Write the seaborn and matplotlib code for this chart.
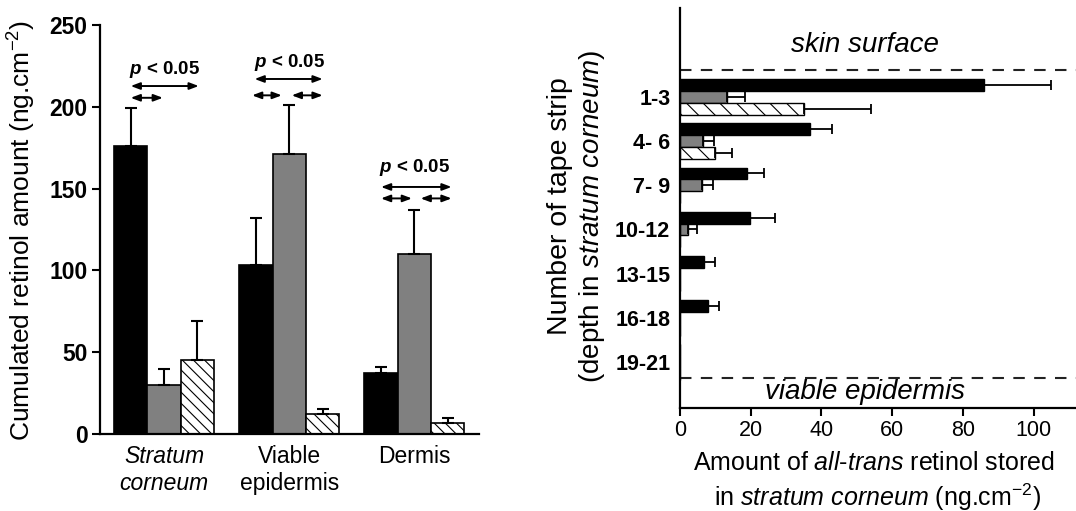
import matplotlib
matplotlib.use("Agg")
import matplotlib.pyplot as plt
import numpy as np
import pandas as pd
import seaborn as sns

# ---------------- Left panel data ----------------
compartments = ["Stratum\ncorneum", "Viable\nepidermis", "Dermis"]
groups = ["Group 1", "Group 2", "Group 3"]
comp_black = [176, 103, 37]
comp_black_err = [23, 29, 4]
comp_grey = [30, 171, 110]
comp_grey_err = [10, 30, 27]
comp_hatched = [45, 12, 7]
comp_hatched_err = [24, 3, 3]
left_yticks = [0, 50, 100, 150, 200, 250]

# ---------------- Right panel data ----------------
strips = ["1-3", "4- 6", "7- 9", "10-12", "13-15", "16-18", "19-21"]
strip_black = [86, 36.8, 18.9, 19.8, 6.8, 7.8, 0]
strip_black_err = [19, 6.2, 4.9, 7.1, 3.1, 3.2, 0]
strip_grey = [13.2, 6.6, 6.3, 2.3, 0, 0, 0]
strip_grey_err = [5.2, 3.1, 3.0, 2.5, 0, 0, 0]
strip_hatched = [35, 10, 0, 0, 0, 0, 0]
strip_hatched_err = [19, 4.8, 0, 0, 0, 0, 0]
right_xticks = [0, 20, 40, 60, 80, 100]

colors = ["#000000", "#808080", "#ffffff"]

sns.set_theme(style="ticks")
plt.rcParams["font.family"] = ["Liberation Sans", "DejaVu Sans"]
plt.rcParams.update({
    "mathtext.fontset": "custom",
    "mathtext.rm": "Liberation Sans",
    "mathtext.it": "Liberation Sans:italic",
    "mathtext.bf": "Liberation Sans:italic:bold",
    "hatch.linewidth": 0.8,
    "axes.linewidth": 1.6,
    "text.color": "black",
    "axes.labelcolor": "black",
    "axes.edgecolor": "black",
    "xtick.color": "black",
    "ytick.color": "black",
})

W, H = 1076, 511
fig = plt.figure(figsize=(W / 100, H / 100), dpi=100)

def px_box(x0, y0, x1, y1):
    return [x0 / W, 1 - y1 / H, (x1 - x0) / W, (y1 - y0) / H]

# ================= Left panel =================
ax1 = fig.add_axes(px_box(100, 25, 479, 434))
left_df = pd.DataFrame({
    "compartment": compartments * 3,
    "group": np.repeat(groups, len(compartments)),
    "amount": comp_black + comp_grey + comp_hatched,
})
sns.barplot(data=left_df, x="compartment", y="amount", hue="group",
            order=compartments, hue_order=groups, palette=colors,
            saturation=1, edgecolor="black", linewidth=1.2, errorbar=None,
            width=0.8, legend=False, ax=ax1)
bars1 = list(ax1.containers)
for p in bars1[2]:
    p.set_hatch("\\\\\\")

left_errs = [comp_black_err, comp_grey_err, comp_hatched_err]
for cont, errs in zip(bars1, left_errs):
    xs = [p.get_x() + p.get_width() / 2 for p in cont]
    ys = [p.get_height() for p in cont]
    ax1.errorbar(xs, ys, yerr=[np.zeros(len(errs)), errs], fmt="none",
                 ecolor="black", elinewidth=1.5, capsize=4.3, capthick=1.5)

ax1.set_xlim(-0.512, 2.516)
ax1.set_ylim(0, 250)
ax1.set_yticks(left_yticks)
ax1.set_xlabel("")
ax1.set_ylabel("")
for s in ["top", "right"]:
    ax1.spines[s].set_visible(False)
ax1.tick_params(axis="y", length=6, width=1.5, labelsize=16.5, pad=3)
ax1.tick_params(axis="x", length=0, labelsize=16.5, pad=8)
for t in ax1.get_yticklabels():
    t.set_fontweight("bold")
xt = ax1.get_xticklabels()
xt[0].set_fontstyle("italic")

# significance arrows
cx = [[p.get_x() + p.get_width() / 2 for p in cont] for cont in bars1]
astyle = dict(arrowstyle="<|-|>,head_length=0.45,head_width=0.17", lw=1.4,
              color="black", shrinkA=0, shrinkB=0)

def arrow(x0, x1, y):
    ax1.annotate("", xy=(x1, y), xytext=(x0, y), arrowprops=astyle)

sig = r"$\mathbf{p}$ < 0.05"
# Stratum corneum
arrow(cx[0][0], cx[2][0] + 0.01, 212.7)
arrow(cx[0][0], cx[1][0] - 0.01, 205.5)
ax1.text(cx[1][0], 222.5, sig, ha="center", va="center", fontsize=13.5, fontweight="bold")
# Viable epidermis
arrow(cx[0][1] - 0.01, cx[2][1], 217)
arrow(cx[0][1] - 0.03, cx[1][1] - 0.06, 207)
arrow(cx[1][1] + 0.02, cx[2][1], 207)
ax1.text(cx[1][1], 227, sig, ha="center", va="center", fontsize=13.5, fontweight="bold")
# Dermis
arrow(cx[0][2], cx[2][2] + 0.03, 151)
arrow(cx[0][2], cx[1][2] - 0.02, 144)
arrow(cx[1][2] + 0.05, cx[2][2] + 0.03, 144)
ax1.text(cx[1][2], 163, sig, ha="center", va="center", fontsize=13.5, fontweight="bold")

fig.text(22 / W, 1 - 230 / H, r"Cumulated retinol amount (ng.cm$^{-2}$)",
         rotation=90, ha="center", va="center", fontsize=19)

# ================= Right panel =================
ax2 = fig.add_axes(px_box(680, 8, 1076, 408))
right_df = pd.DataFrame({
    "strip": strips * 3,
    "group": np.repeat(groups, len(strips)),
    "amount": strip_black + strip_grey + strip_hatched,
})
sns.barplot(data=right_df, x="amount", y="strip", hue="group", orient="h",
            order=strips, hue_order=groups, palette=colors, saturation=1,
            edgecolor="black", linewidth=1.0, errorbar=None, width=0.8,
            legend=False, ax=ax2)
bars2 = list(ax2.containers)
for p in bars2[2]:
    p.set_hatch("\\\\")

right_errs = [strip_black_err, strip_grey_err, strip_hatched_err]
for cont, errs in zip(bars2, right_errs):
    ys = [p.get_y() + p.get_height() / 2 for p in cont]
    xs = [p.get_width() for p in cont]
    sel = [i for i, e in enumerate(errs) if e > 0]
    ax2.errorbar([xs[i] for i in sel], [ys[i] for i in sel],
                 xerr=[np.zeros(len(sel)), [errs[i] for i in sel]], fmt="none",
                 ecolor="black", elinewidth=1.3, capsize=3.6, capthick=1.3)

ax2.set_xlim(0, 112)
ax2.set_ylim(7.04, -2.01)
ax2.set_xticks(right_xticks)
ax2.set_xlabel("")
ax2.set_ylabel("")
for s in ["top", "right"]:
    ax2.spines[s].set_visible(False)
ax2.tick_params(axis="x", length=6, width=1.5, labelsize=15.5, pad=3)
ax2.tick_params(axis="y", length=0, labelsize=15.5, pad=7)
for t in ax2.get_yticklabels():
    t.set_fontweight("bold")

ax2.axhline(-0.61, color="#222222", lw=1.5, ls=(0, (5.5, 4.5)))
ax2.axhline(6.36, color="#222222", lw=1.5, ls=(0, (5.5, 4.5)))
ax2.text(52.4, -1.18, "skin surface", ha="center", va="center",
         fontsize=20, fontstyle="italic")
ax2.text(52.4, 6.67, "viable epidermis", ha="center", va="center",
         fontsize=20, fontstyle="italic")

fig.text(874 / W, 1 - 463 / H, r"Amount of $\it{all}$-$\it{trans}$ retinol stored",
         ha="center", va="center", fontsize=18)
fig.text(878 / W, 1 - 497 / H, r"in $\it{stratum\ corneum}$ (ng.cm$^{-2}$)",
         ha="center", va="center", fontsize=18)
fig.text(560 / W, 1 - 206 / H, "Number of tape strip", rotation=90,
         ha="center", va="center", fontsize=20.5)
fig.text(592 / W, 1 - 216 / H, r"(depth in $\it{stratum\ corneum}$)", rotation=90,
         ha="center", va="center", fontsize=20)

fig.savefig("out.png", dpi=100)
